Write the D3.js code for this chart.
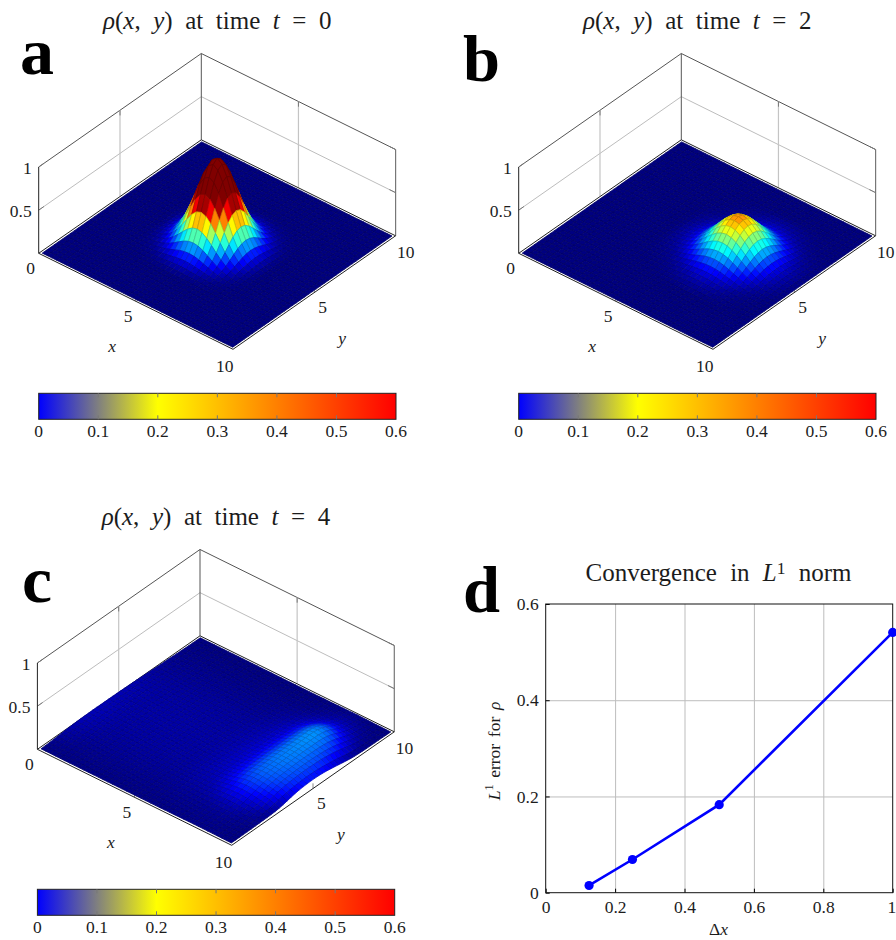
<!DOCTYPE html>
<html lang="en">
<head>
<meta charset="UTF-8">
<title>Density surfaces and L1 convergence</title>
<script src="https://d3js.org/d3.v7.min.js"></script>
<style>
  html, body { margin: 0; padding: 0; background: #fff; overflow: hidden; }
  text { font-family: "Liberation Serif", serif; fill: #1c1c1c; }
  .tick-label { font-size: 17.5px; }
  .title { font-size: 25px; }
  .axis-label { font-size: 17.5px; font-style: italic; }
  .letter { font-size: 65px; font-weight: bold; fill: #000; }
</style>
</head>
<body>
<svg id="chart" width="896" height="940"></svg>
<script>
// rho values in thousandths, quarter of a surface around the peak (offset in grid cells of 0.25)
const peakT0 = [
  [1000,958,842,678,502,340,212,121,64,31,13],
  [958,918,807,650,481,326,203,116,61,29,13],
  [842,807,709,571,423,286,179,102,53,26,11],
  [678,650,571,460,340,231,144,82,43,21,9],
  [502,481,423,340,252,171,106,61,32,15,7],
  [340,326,286,231,171,116,72,41,22,10,5],
  [212,203,179,144,106,72,45,26,13,6,3],
  [121,116,102,82,61,41,26,15,8,4,2],
  [64,61,53,43,32,22,13,8,4,2,1],
  [31,29,26,21,15,10,6,4,2,1,0],
  [13,13,11,9,7,5,3,2,1,0,0]
];
const peakT2 = [
  [450,436,396,340,273,206,147,97,61,42,28,18,10],
  [436,422,384,329,265,199,142,94,59,40,27,17,9],
  [396,384,350,300,241,182,130,86,54,36,24,15,8],
  [340,329,300,256,207,155,110,74,46,31,20,13,7],
  [273,265,241,207,166,125,89,59,36,25,16,10,5],
  [206,199,182,155,125,94,67,45,28,19,12,7,4],
  [147,142,130,110,89,67,47,32,19,13,8,5,3],
  [97,94,86,74,59,45,32,21,13,8,5,3,2],
  [61,59,54,46,36,28,19,13,9,5,3,2,1],
  [42,40,36,31,25,19,13,8,5,3,2,1,1],
  [28,27,24,20,16,12,8,5,3,2,1,1,0],
  [18,17,15,13,10,7,5,3,2,1,1,0,0],
  [10,9,8,7,5,4,3,2,1,1,0,0,0]
];
const flatRow = [3,4,6,7,9,10,12,14,15,17,18,19,20,21,22,22,22,23,23,23,23,23,22,22,22,21,20,19,18,16,14,13,11,10,8,6,5,4,2,2,1];
// t = 4, one row per x (0 to 10), one column per y (0 to 10)
const rhoT4 = [
  [4,5,7,10,14,18,22,25,28,30,32,33,33,34,34,33,33,33,32,32,31,30,29,28,26,25,23,21,19,17,15,13,12,10,8,6,5,4,3,2,1],
  [4,5,7,10,13,17,20,23,26,28,30,31,31,32,32,31,31,31,30,30,29,29,28,27,25,24,22,20,18,16,14,13,11,9,8,6,5,4,3,2,1],
  [4,5,6,9,12,15,18,20,23,25,27,28,28,29,29,29,29,28,28,28,27,27,26,25,24,23,21,20,18,16,14,12,11,9,7,6,5,4,2,2,1],
  [3,4,6,8,11,13,16,18,20,22,24,25,25,26,26,26,26,26,26,25,25,25,24,24,23,22,21,19,17,16,14,12,11,9,7,6,5,4,2,2,1],
  [3,4,6,8,10,12,14,16,18,20,21,22,23,24,24,24,24,24,24,24,24,24,23,23,22,22,20,19,17,16,14,13,11,10,8,6,5,4,2,2,1],
  [3,4,6,7,9,11,13,15,16,18,19,20,21,22,22,23,23,23,23,23,23,23,22,22,22,21,20,19,18,16,14,13,11,10,8,6,5,4,2,2,1],
  flatRow, flatRow, flatRow, flatRow, flatRow, flatRow, flatRow, flatRow,
  flatRow, flatRow, flatRow, flatRow, flatRow, flatRow, flatRow, flatRow,
  [3,4,6,7,10,11,13,15,17,19,20,21,22,23,24,25,25,25,26,26,26,26,25,25,24,24,23,22,20,18,16,14,12,11,9,7,5,4,3,2,1],
  [3,4,6,8,10,12,14,16,18,20,22,23,24,25,26,27,27,28,28,28,28,28,27,27,26,26,25,24,22,20,18,16,14,12,10,8,6,5,3,2,1],
  [3,4,7,8,10,12,15,17,19,22,24,25,27,28,29,30,30,31,31,31,31,31,30,30,29,29,28,27,25,23,21,19,16,14,12,9,7,5,3,2,1],
  [3,4,7,9,11,13,16,18,21,24,26,28,29,31,33,34,34,35,35,35,35,35,35,34,33,33,32,31,29,27,25,22,19,16,13,10,7,6,4,3,1],
  [4,5,7,9,11,13,16,18,21,24,27,30,32,34,36,38,38,40,40,40,41,41,40,40,40,39,38,38,36,34,32,29,25,21,17,12,9,7,5,3,2],
  [4,5,7,9,11,13,16,19,22,25,29,32,36,38,41,43,44,45,46,46,47,47,46,47,46,46,45,45,43,41,39,35,31,25,20,15,10,8,5,3,2],
  [4,6,7,9,11,14,16,20,24,28,34,38,43,47,50,53,54,56,57,57,58,59,59,59,59,59,58,58,57,56,53,48,42,34,26,19,14,10,7,4,2],
  [5,6,7,9,11,14,17,21,27,33,40,46,53,59,63,67,70,72,73,75,76,77,77,78,78,78,78,78,77,77,73,67,58,47,36,26,18,13,9,6,3],
  [5,6,8,9,11,14,18,23,30,38,47,57,66,74,80,85,88,91,93,95,97,98,99,100,101,101,102,103,103,102,98,90,78,63,48,33,23,17,12,7,4],
  [6,7,8,10,12,15,19,26,34,44,56,68,80,90,98,105,109,113,116,118,120,122,123,125,126,128,129,130,131,131,126,116,101,81,61,42,29,21,15,9,5],
  [6,7,8,10,12,15,20,27,37,48,62,76,90,102,112,119,125,128,132,135,138,140,142,143,145,147,149,151,152,152,146,135,117,94,70,49,34,25,17,10,6],
  [6,7,8,10,12,15,20,28,38,50,65,80,95,108,118,126,132,136,140,143,146,148,150,152,154,156,158,160,162,162,156,144,125,100,75,52,36,26,18,11,6],
  [6,7,8,9,12,15,20,27,37,49,63,78,93,106,116,125,131,136,140,143,146,148,150,152,153,155,156,157,158,156,149,136,117,92,68,47,33,24,16,10,5],
  [5,6,7,8,11,14,18,24,33,44,58,73,88,101,112,121,127,132,136,139,142,144,146,147,148,149,149,149,148,144,135,121,102,79,58,40,28,20,14,8,4],
  [5,5,6,7,9,12,15,20,28,38,50,65,80,93,104,113,120,125,129,132,135,137,139,139,139,138,136,134,130,124,113,98,80,61,44,30,21,15,10,6,3],
  [4,4,5,6,8,10,12,16,23,31,42,56,70,83,94,103,110,115,119,122,125,127,128,127,126,124,120,116,110,102,89,74,58,43,30,21,14,10,7,4,2],
  [4,4,4,5,6,8,10,13,18,25,34,47,60,73,84,94,101,106,110,113,116,117,117,116,114,111,105,99,91,81,68,54,41,29,20,14,9,7,4,3,2],
  [3,3,3,4,5,6,8,10,13,17,22,30,41,52,63,72,79,85,89,92,94,94,92,89,84,78,70,62,53,43,33,24,17,13,10,7,5,4,3,2,1],
  [3,3,3,3,4,4,5,6,7,8,10,13,19,28,39,50,60,68,73,76,78,78,76,72,66,58,50,41,32,24,16,11,8,6,5,4,3,3,2,1,1]
];

const jetStops = [0, 0.075, 0.225, 0.375, 0.525, 0.6];
const jetColors = ["#000080", "#0000ff", "#00ffff", "#ffff00", "#ff0000", "#800000"];
const barStops = [0, 0.2, 0.6];
const barColors = ["#0000ff", "#ffff00", "#ff0000"];
const barTicks = [0, 0.1, 0.2, 0.3, 0.4, 0.5, 0.6];
const zTicks = [0.5, 1];

const deltaX = [0.125, 0.25, 0.5, 1];
const l1Error = [0.015, 0.069, 0.183, 0.541];
const errXTicks = [0, 0.2, 0.4, 0.6, 0.8, 1];
const errYTicks = [0, 0.2, 0.4, 0.6];

const svg = d3.select("#chart");
const cells = 40;

// oblique view of the box, every position comes from these scales
const xToH = d3.scaleLinear([0, 10], [0, 194.3]);
const xToV = d3.scaleLinear([0, 10], [0, 96]);
const yToH = d3.scaleLinear([0, 10], [0, 162.6]);
const yToV = d3.scaleLinear([0, 10], [0, -113.5]);
const zToV = d3.scaleLinear([0, 1], [0, -86.3]);
// the surface sits a little inside the axis box
const dataToAxis = d3.scaleLinear([0, 10], [0.1, 9.9]);

const jet = d3.scaleLinear().domain(jetStops).range(jetColors).clamp(true);
const barColor = d3.scaleLinear().domain(barStops).range(barColors);

function mathText(sel, parts) {
  parts.forEach(p => {
    const t = sel.append("tspan").text(p.t);
    if (p.i) t.style("font-style", "italic");
    if (p.sup) t.attr("dy", -7).style("font-size", "0.7em");
    if (p.after) t.attr("dy", 7);
  });
}

function drawSurface(g, value, titleT) {
  const pt = (x, y, z) => [
    xToH(x) + yToH(y),
    xToV(x) + yToV(y) + zToV(z)
  ];
  const line = (a, b, stroke, w) => g.append("line")
    .attr("x1", a[0]).attr("y1", a[1]).attr("x2", b[0]).attr("y2", b[1])
    .attr("stroke", stroke).attr("stroke-width", w);

  // back walls and grid
  zTicks.forEach(z => {
    const major = z === 1;
    const c = major ? "#555" : "#bdbdbd";
    line(pt(0, 0, z), pt(0, 10, z), c, 1);
    line(pt(0, 10, z), pt(10, 10, z), c, 1);
    line(pt(0, 0, z), pt(0, 0.32, z), "#777", 1);
    line(pt(10, 10, z), pt(9.68, 10, z), "#777", 1);
  });
  line(pt(0, 5, 0), pt(0, 5, 1), "#c4c4c4", 1.2);
  line(pt(5, 10, 0), pt(5, 10, 1), "#c4c4c4", 1.2);
  line(pt(0, 5, 1), pt(0, 5, 0.94), "#777", 1);
  line(pt(5, 10, 1), pt(5, 10, 0.94), "#777", 1);
  line(pt(0, 0, 0), pt(0, 0, 1), "#222", 1);
  line(pt(0, 10, 0), pt(0, 10, 1), "#555", 1);
  line(pt(10, 10, 0), pt(10, 10, 1), "#777", 1.2);
  line(pt(10, 5, 0), pt(10, 5, 0.06), "#888", 1);
  line(pt(5, 0, 0), pt(5, 0, 0.06), "#888", 1);
  line(pt(0, 0, 0), pt(0, 10, 0), "#222", 1);
  line(pt(0, 10, 0), pt(10, 10, 0), "#222", 1);

  // facets, back to front
  const h = 10 / cells;
  const facets = [];
  for (let i = 0; i < cells; i++) {
    for (let j = cells - 1; j >= 0; j--) {
      const c = [[i, j], [i + 1, j], [i + 1, j + 1], [i, j + 1]];
      const zs = c.map(q => value(q[0], q[1]) / 1000);
      const poly = c.map((q, k) => pt(dataToAxis(q[0] * h), dataToAxis(q[1] * h), zs[k]));
      facets.push({ poly, m: d3.mean(zs) });
    }
  }
  g.append("g").selectAll("polygon").data(facets).join("polygon")
    .attr("points", d => d.poly.map(p => p.join(",")).join(" "))
    .attr("fill", d => jet(d.m))
    .attr("stroke", d => d3.interpolateRgb(jet(d.m), "#000")(0.2))
    .attr("stroke-width", 0.8);

  // front edges
  line(pt(0, 0, 0), pt(10, 0, 0), "#222", 1);
  line(pt(10, 0, 0), pt(10, 10, 0), "#222", 1);

  // tick labels
  const label = (cx, cy, s, cls) => g.append("text").attr("class", cls || "tick-label")
    .attr("x", cx).attr("y", cy).attr("text-anchor", "middle").attr("dominant-baseline", "central").text(s);
  g.append("text").attr("class", "tick-label").attr("x", -7).attr("y", -85.8).attr("text-anchor", "end").attr("dominant-baseline", "central").text("1");
  g.append("text").attr("class", "tick-label").attr("x", -7).attr("y", -42).attr("text-anchor", "end").attr("dominant-baseline", "central").text("0.5");
  label(-8, 15, "0");
  label(89.5, 63, "5");
  label(186, 113, "10");
  label(284, 54, "5");
  label(367, -1, "10");
  label(73.5, 93, "x", "axis-label");
  label(303.5, 85, "y", "axis-label");

  // title
  const title = g.append("text").attr("class", "title")
    .attr("x", 178.5).attr("y", -224.5).attr("text-anchor", "middle")
    .style("word-spacing", "6.3px");
  mathText(title, [
    { t: "ρ", i: 1 }, { t: "(" }, { t: "x", i: 1 }, { t: ", " }, { t: "y", i: 1 }, { t: ") at time " },
    { t: "t", i: 1 }, { t: " = " + titleT }
  ]);

  // colour bar
  const barX = d3.scaleLinear([0, 0.6], [0, 357.3]);
  const barTop = 140, barH = 26;
  const gradId = "bar" + titleT;
  g.append("linearGradient").attr("id", gradId)
    .selectAll("stop").data(barStops).join("stop")
    .attr("offset", d => d / 0.6).attr("stop-color", d => barColor(d));
  g.append("rect").attr("x", 0).attr("y", barTop).attr("width", barX(0.6)).attr("height", barH)
    .attr("fill", `url(#${gradId})`).attr("stroke", "#222").attr("stroke-width", 1);
  g.selectAll(".bt").data(barTicks.slice(1, -1)).join("path").attr("class", "bt")
    .attr("d", d => `M${barX(d)},${barTop}v4M${barX(d)},${barTop + barH}v-4`)
    .attr("stroke", "#777").attr("fill", "none");
  g.selectAll(".bl").data(barTicks).join("text").attr("class", "bl tick-label")
    .attr("x", d => barX(d)).attr("y", barTop + barH + 18).attr("text-anchor", "middle")
    .text(d => String(d));
}

const lookupPeak = (table, ci, cj) => (i, j) => {
  const a = Math.abs(i - ci), b = Math.abs(j - cj);
  return a < table.length && b < table.length ? table[a][b] : 0;
};

const corners = [
  { x: 38.7, y: 253.3 },
  { x: 518.7, y: 253.3 },
  { x: 37.4, y: 749.3 }
];
const panels = [
  { value: lookupPeak(peakT0, 20, 20), t: 0 },
  { value: lookupPeak(peakT2, 27, 22), t: 2 },
  { value: (i, j) => rhoT4[i][j] ?? 0, t: 4 }
];
panels.forEach((p, k) => {
  const g = svg.append("g").attr("transform", `translate(${corners[k].x},${corners[k].y})`);
  drawSurface(g, p.value, p.t);
});

// panel letters
[["a", 20, 74, 34], ["b", 463, 81, 37], ["c", 22, 602, 30], ["d", 463, 612, 37]].forEach(l => {
  svg.append("text").attr("class", "letter").attr("x", l[1]).attr("y", l[2])
    .attr("textLength", l[3]).attr("lengthAdjust", "spacingAndGlyphs").text(l[0]);
});

// convergence plot
const plot = { left: 545.7, right: 892.7, top: 604, bottom: 892.7 };
const xErr = d3.scaleLinear([0, 1], [plot.left, plot.right]);
const yErr = d3.scaleLinear([0, 0.6], [plot.bottom, plot.top]);
const gd = svg.append("g");

gd.append("g").attr("transform", `translate(0,${plot.bottom})`)
  .call(d3.axisBottom(xErr).tickValues(errXTicks.slice(1, -1)).tickSize(-(plot.bottom - plot.top)).tickFormat(""))
  .call(a => a.select(".domain").remove())
  .selectAll("line").attr("stroke", "#bdbdbd");
gd.append("g").attr("transform", `translate(${plot.left},0)`)
  .call(d3.axisLeft(yErr).tickValues(errYTicks.slice(1, -1)).tickSize(-(plot.right - plot.left)).tickFormat(""))
  .call(a => a.select(".domain").remove())
  .selectAll("line").attr("stroke", "#bdbdbd");

const xTickAxis = d3.axisBottom(xErr).tickValues(errXTicks).tickSize(-4).tickPadding(8).tickFormat(d => String(d));
const yTickAxis = d3.axisLeft(yErr).tickValues(errYTicks).tickSize(-4).tickPadding(7).tickFormat(d => String(d));
gd.append("g").attr("transform", `translate(0,${plot.bottom})`).call(xTickAxis)
  .call(a => a.select(".domain").remove())
  .call(a => a.selectAll("text").attr("class", "tick-label").attr("dy", "0.72em"))
  // last label sits on the page edge, keep it inside
  .call(a => a.selectAll("text").filter(d => d === 1).attr("text-anchor", "end").attr("x", 3));
gd.append("g").attr("transform", `translate(${plot.left},0)`).call(yTickAxis)
  .call(a => a.select(".domain").remove())
  .call(a => a.selectAll("text").attr("class", "tick-label"));
gd.selectAll("g.tick text").attr("font-size", null).attr("font-family", null);
gd.append("rect").attr("x", plot.left).attr("y", plot.top)
  .attr("width", plot.right - plot.left).attr("height", plot.bottom - plot.top)
  .attr("fill", "none").attr("stroke", "#111").attr("stroke-width", 1);

const errLine = d3.line().x((d, i) => xErr(deltaX[i])).y(d => yErr(d));
gd.append("path").datum(l1Error).attr("d", errLine)
  .attr("fill", "none").attr("stroke", "#0000ff").attr("stroke-width", 2.6);
gd.selectAll("circle").data(l1Error).join("circle")
  .attr("cx", (d, i) => xErr(deltaX[i])).attr("cy", d => yErr(d)).attr("r", 4.6).attr("fill", "#0000ff");

const dTitle = gd.append("text").attr("class", "title").attr("x", 718.5).attr("y", 581).attr("text-anchor", "middle")
  .style("word-spacing", "7px");
mathText(dTitle, [{ t: "Convergence in " }, { t: "L", i: 1 }, { t: "1", sup: 1 }, { t: " norm", after: 1 }]);
gd.append("text").attr("class", "tick-label").attr("x", 718.5).attr("y", 935).attr("text-anchor", "middle")
  .call(s => mathText(s, [{ t: "Δ" }, { t: "x", i: 1 }]));
const yLab = gd.append("text").attr("class", "tick-label").attr("text-anchor", "middle")
  .attr("transform", "translate(500,751) rotate(-90)")
  .style("word-spacing", "2.3px");
mathText(yLab, [{ t: "L", i: 1 }, { t: "1", sup: 1 }, { t: " error for ", after: 1 }, { t: "ρ", i: 1 }]);
</script>
</body>
</html>
